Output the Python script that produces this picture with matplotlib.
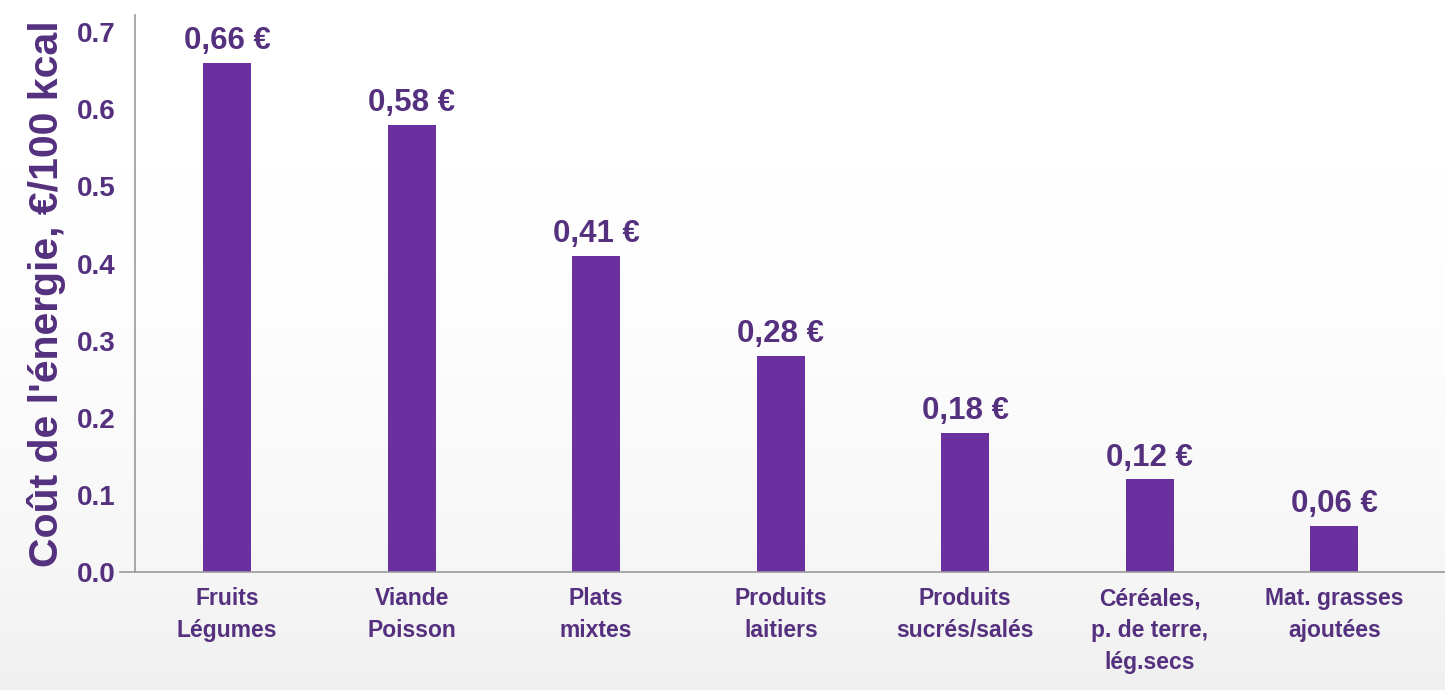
import matplotlib.pyplot as plt
import numpy as np

# Coût de l'énergie par groupe d'aliments
categories = [
    "Fruits\nLégumes",
    "Viande\nPoisson",
    "Plats\nmixtes",
    "Produits\nlaitiers",
    "Produits\nsucrés/salés",
    "Céréales,\np. de terre,\nlég.secs",
    "Mat. grasses\najoutées",
]
costs = [0.66, 0.58, 0.41, 0.28, 0.18, 0.12, 0.06]
value_labels = ["0,66 €", "0,58 €", "0,41 €", "0,28 €", "0,18 €", "0,12 €", "0,06 €"]
yticks = [0.0, 0.1, 0.2, 0.3, 0.4, 0.5, 0.6, 0.7]

bar_color = "#6b30a0"
text_color = "#54307e"
spine_color = "#9a9a9a"

plt.rcParams["font.family"] = ["Liberation Sans", "DejaVu Sans"]
plt.rcParams["font.weight"] = "bold"

fig = plt.figure(figsize=(14.45, 6.9), dpi=100)

# fond légèrement grisé vers le bas
bg = fig.add_axes([0, 0, 1, 1], zorder=-10)
grad = np.linspace(0, 1, 256) ** 2.5
bg.imshow(grad[:, None], aspect="auto", cmap="Greys", vmin=0, vmax=8,
          extent=[0, 1, 0, 1], origin="upper")
bg.axis("off")

ax = fig.add_axes([0.0934, 0.171, 0.9066, 0.807])
ax.patch.set_alpha(0)

x = np.arange(len(categories))
ax.bar(x, costs, width=0.26, color=bar_color, zorder=2)

for xi, val, lab in zip(x, costs, value_labels):
    ax.annotate(lab, (xi, val), xytext=(0, 10), textcoords="offset points",
                ha="center", va="baseline", fontsize=22.5, fontweight="bold",
                color=text_color)

ax.set_xlim(-0.5, 6.6)
ax.set_ylim(0, 0.722)
ax.set_yticks(yticks)
ax.set_yticklabels([f"{t:.1f}" for t in yticks], fontsize=20,
                   fontweight="bold", color=text_color)
ax.set_xticks(x)
ax.set_xticklabels(categories, fontsize=16.5, fontweight="bold",
                   color=text_color, linespacing=1.5, va="top")

ax.tick_params(axis="x", length=0, pad=11)
ax.tick_params(axis="y", length=0, pad=14)
ax.set_ylabel("Coût de l'énergie, €/100 kcal", fontsize=29.5,
              fontweight="bold", color=text_color, labelpad=8)

for side in ("top", "right"):
    ax.spines[side].set_visible(False)
for side in ("left", "bottom"):
    ax.spines[side].set_color(spine_color)
    ax.spines[side].set_linewidth(1.2)

# petit trait à gauche du zéro
ax.plot([-0.58, -0.5], [0, 0], color=spine_color, lw=1.2, clip_on=False)

fig.savefig("out.png", dpi=100)
